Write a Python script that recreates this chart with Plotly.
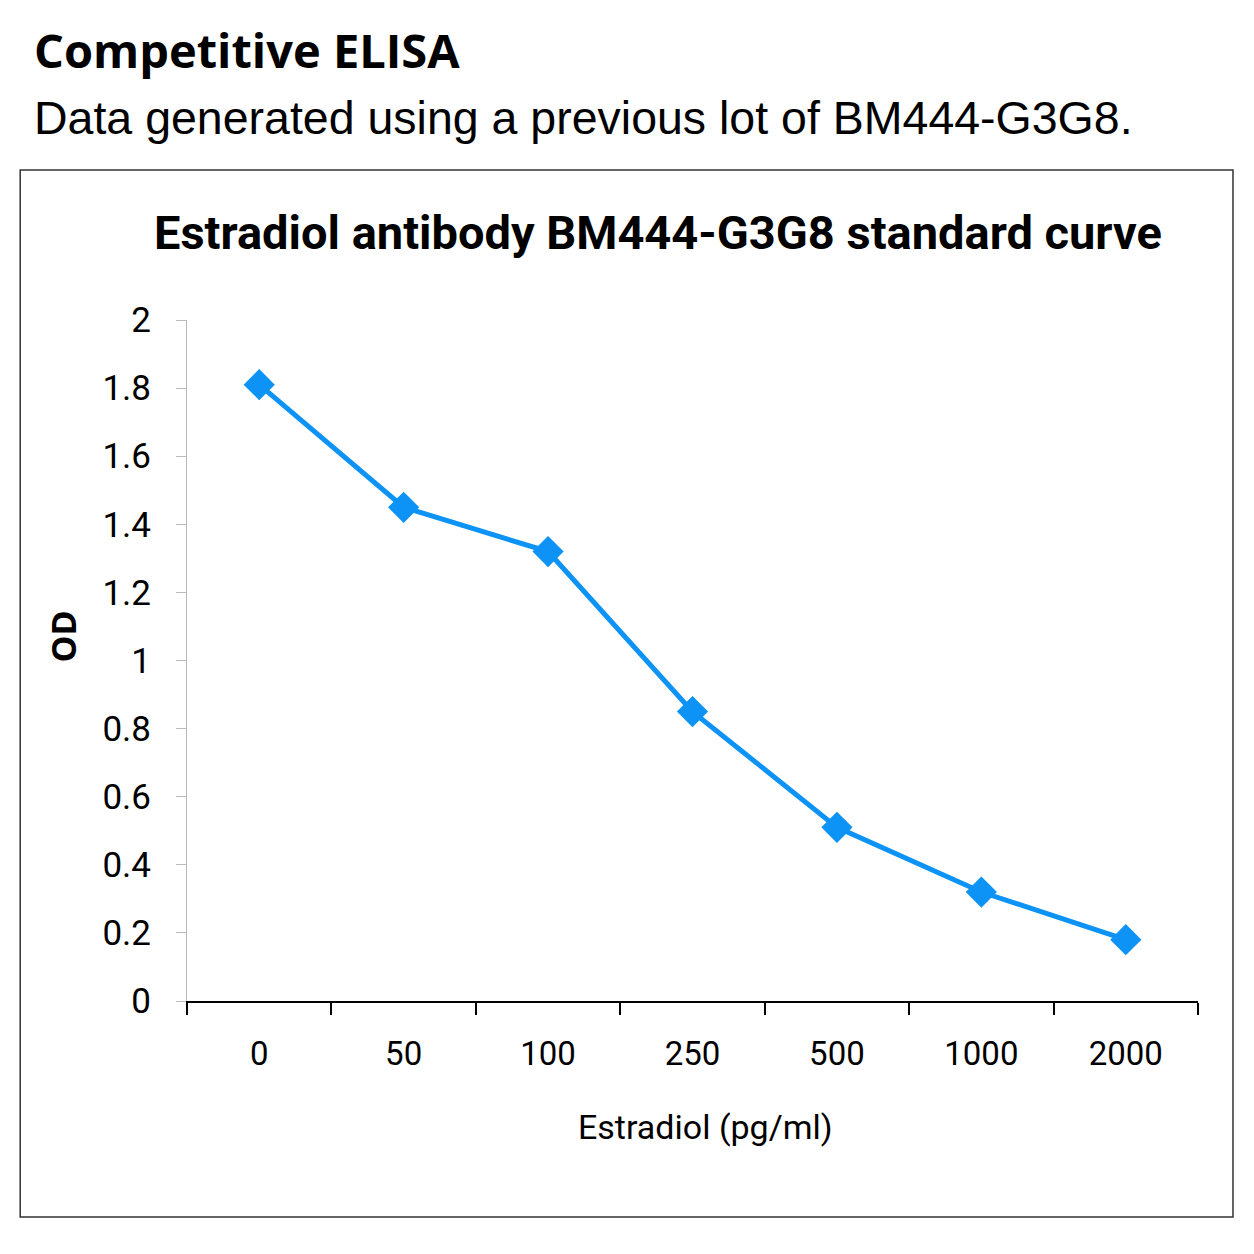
import plotly.graph_objects as go

# data
conc_labels = ["0", "50", "100", "250", "500", "1000", "2000"]
od_values = [1.81, 1.45, 1.32, 0.85, 0.51, 0.32, 0.18]

y_ticks = [0, 0.2, 0.4, 0.6, 0.8, 1, 1.2, 1.4, 1.6, 1.8, 2]

narrow = "Liberation Sans Narrow, Roboto, Arial"
blue = "#0C93F5"

fig = go.Figure()
fig.add_trace(go.Scatter(
    x=conc_labels, y=od_values,
    mode="lines+markers",
    line=dict(color=blue, width=5),
    marker=dict(symbol="diamond", size=24, color=blue),
    showlegend=False,
))

# the page puts the figure 8px in from the top-left, margins allow for that
fig.update_layout(
    width=1254, height=1254,
    margin=dict(l=179, r=64, t=312, b=261),
    paper_bgcolor="white", plot_bgcolor="white",
    font=dict(family=narrow, color="black"),
)

fig.update_xaxes(
    type="category",
    range=[-0.5, len(conc_labels) - 0.5],
    tickson="boundaries",
    ticks="outside", ticklen=12, tickwidth=2, tickcolor="black",
    showline=True, linecolor="black", linewidth=2,
    showgrid=False, zeroline=False,
    tickfont=dict(size=33, family=narrow),
    ticklabelstandoff=22,
)
fig.update_yaxes(
    range=[0, 2], tickvals=y_ticks,
    ticks="outside", ticklen=10, tickwidth=1, tickcolor="#BBBBBB",
    showline=True, linecolor="#BBBBBB", linewidth=1,
    showgrid=False, zeroline=False,
    tickfont=dict(size=35, family=narrow),
    ticklabelstandoff=18,
)

# outer frame round the chart
fig.add_shape(type="rect", xref="paper", yref="paper",
              x0=-0.165, x1=1.0346, y0=-0.3172, y1=1.2203,
              line=dict(color="#333333", width=1.5))

fig.add_annotation(text="Estradiol (pg/ml)",
                   xref="paper", yref="paper", x=0.513, y=-0.185,
                   xanchor="center", yanchor="middle", showarrow=False,
                   font=dict(size=34, family=narrow))
fig.add_annotation(text="<b>OD</b>", textangle=-90,
                   xref="paper", yref="paper", x=-0.1227, y=0.535,
                   xanchor="center", yanchor="middle", showarrow=False,
                   font=dict(size=34, family="Open Sans"))
fig.add_annotation(text="<b>Estradiol antibody BM444-G3G8 standard curve</b>",
                   xref="paper", yref="paper", x=0.466, y=1.129,
                   xanchor="center", yanchor="middle", showarrow=False,
                   font=dict(size=47, family=narrow))
fig.add_annotation(text="<b>Competitive ELISA</b>",
                   xref="paper", yref="paper", x=-0.153, y=1.3965,
                   xanchor="left", yanchor="middle", showarrow=False,
                   font=dict(size=47, family="Open Sans"))
fig.add_annotation(text="Data generated using a previous lot of BM444-G3G8.",
                   xref="paper", yref="paper", x=-0.153, y=1.2966,
                   xanchor="left", yanchor="middle", showarrow=False,
                   font=dict(size=46.5, family="Liberation Sans"))

fig.write_html("out.html")
